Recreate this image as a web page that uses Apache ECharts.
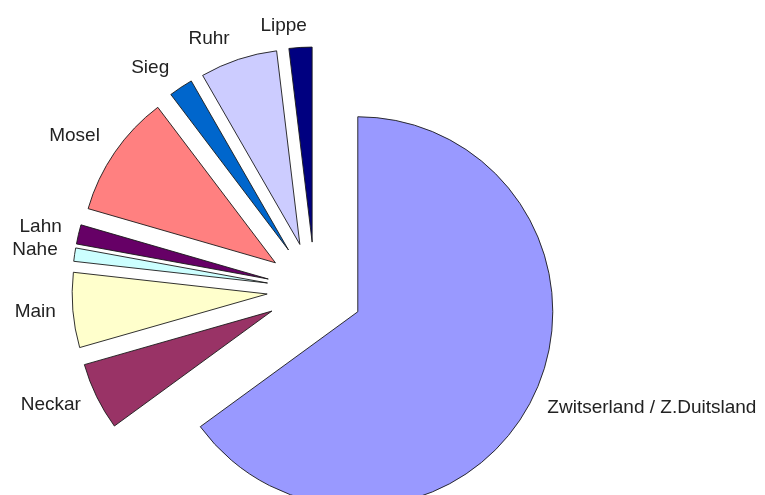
<!DOCTYPE html>
<html>
<head>
<meta charset="utf-8">
<script src="https://cdn.jsdelivr.net/npm/echarts@6/dist/echarts.min.js"></script>
<style>
  html, body { margin: 0; padding: 0; background: #ffffff; }
  #chart { width: 765px; height: 495px; }
</style>
</head>
<body>
<div id="chart"></div>
<script>
// Share of each region in the total (percent), clockwise from 12 o'clock
const regions = ['Zwitserland / Z.Duitsland', 'Neckar', 'Main', 'Nahe', 'Lahn', 'Mosel', 'Sieg', 'Ruhr', 'Lippe'];
const shares = [64.9, 5.6, 6.2, 1.1, 1.6, 10.2, 2.0, 6.4, 1.9];
const palette = ['#9999FF', '#993366', '#FFFFCC', '#CCFFFF', '#660066', '#FF8080', '#0066CC', '#CCCCFF', '#000080'];

const EXPLODE = 48;     // every slice is pulled out by this distance
const LABEL_GAP = 12;   // space between a slice's rim and its label
const FONT_SIZE = 19;
const FONT_FAMILY = '"Liberation Sans", Arial, sans-serif';

const sliceBorder = { borderColor: '#1a1a1a', borderWidth: 0.9 };

const data = regions.map((name, i) => ({
  name: name,
  value: shares[i],
  selected: true,
  itemStyle: Object.assign({ color: palette[i] }, sliceBorder),
  select: { itemStyle: Object.assign({ color: palette[i] }, sliceBorder) }
}));

const clamp = (v, lo, hi) => Math.max(lo, Math.min(hi, v));

// Text width measurement for label boxes
const measureCtx = document.createElement('canvas').getContext('2d');
measureCtx.font = FONT_SIZE + 'px ' + FONT_FAMILY;
const textWidth = (s) => measureCtx.measureText(s).width;

const chart = echarts.init(document.getElementById('chart'), null, { renderer: 'canvas' });

// Nudge each outside label so the box side (or corner) facing the pie touches the anchor point
function placeLabel(params) {
  const seriesData = chart.getModel().getSeriesByIndex(0).getData();
  const lay = seriesData.getItemLayout(params.dataIndex);
  const mid = (lay.startAngle + lay.endAngle) / 2;
  const ux = Math.cos(mid), uy = Math.sin(mid);
  const w = textWidth(regions[params.dataIndex]);
  const h = FONT_SIZE;
  const side = ux >= 0 ? 1 : -1;
  const sy = uy < 0 ? clamp(uy * 2, -1, 0) : clamp(uy * 0.6, 0, 1);
  return {
    dx: (clamp(ux * 8, -1, 1) - side) * w / 2,
    dy: sy * h / 2,
    hideOverlap: false
  };
}

chart.setOption({
  backgroundColor: '#ffffff',
  animation: false,
  series: [{
    type: 'pie',
    center: [315, 290],
    radius: 195,
    startAngle: 90,
    clockwise: true,
    selectedMode: 'multiple',
    selectedOffset: EXPLODE,
    avoidLabelOverlap: false,
    minShowLabelAngle: 0,
    silent: true,
    label: {
      show: true,
      position: 'outside',
      fontFamily: FONT_FAMILY,
      fontSize: FONT_SIZE,
      lineHeight: FONT_SIZE,
      color: '#222222'
    },
    labelLine: { show: false, length: LABEL_GAP, length2: 0 },
    labelLayout: placeLabel,
    emphasis: { disabled: true },
    data: data
  }]
});
</script>
</body>
</html>
